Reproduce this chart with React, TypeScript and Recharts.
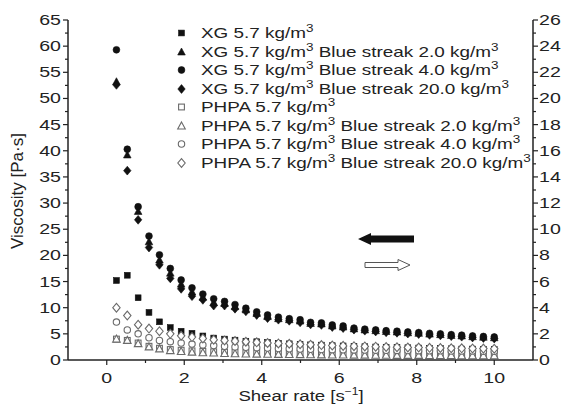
import React from "react";
import { ScatterChart, Scatter, XAxis, YAxis } from "recharts";

// shear rate [1/s]
const xs = [
  0.25, 0.53, 0.81, 1.09, 1.36, 1.64, 1.92, 2.2, 2.48, 2.76, 3.04, 3.31,
  3.59, 3.87, 4.15, 4.43, 4.71, 4.99, 5.26, 5.54, 5.82, 6.1, 6.38, 6.66,
  6.94, 7.21, 7.49, 7.77, 8.05, 8.33, 8.61, 8.89, 9.16, 9.44, 9.72, 10.0,
];

// XG series, left axis [Pa·s]
const xg = [
  15.2, 16.2, 11.9, 9.1, 7.3, 6.2, 5.5, 5.1, 4.6, 4.2, 4.0, 3.8, 3.6, 3.5,
  3.35, 3.2, 3.1, 3.0, 2.9, 2.85, 2.75, 2.7, 2.6, 2.55, 2.5, 2.45, 2.4, 2.35,
  2.3, 2.25, 2.2, 2.15, 2.1, 2.1, 2.05, 2.0,
];
const xgBs2 = [
  53.2, 39.2, 28.4, 22.6, 19.1, 16.6, 14.5, 13.0, 12.0, 11.0, 10.8, 10.2,
  9.6, 8.9, 8.3, 7.9, 7.7, 7.45, 7.0, 6.9, 6.5, 6.3, 5.95, 5.75, 5.6, 5.45,
  5.35, 5.2, 5.1, 4.95, 4.85, 4.7, 4.6, 4.45, 4.35, 4.25,
];
const xgBs4 = [
  59.3, 40.3, 29.3, 23.7, 20.1, 17.5, 15.3, 13.8, 12.6, 11.7, 11.2, 10.6,
  9.9, 9.2, 8.6, 8.2, 7.9, 7.7, 7.2, 7.1, 6.7, 6.5, 6.1, 5.9, 5.75, 5.6, 5.5,
  5.35, 5.25, 5.1, 5.0, 4.85, 4.75, 4.6, 4.5, 4.4,
];
const xgBs20 = [
  52.6, 36.2, 26.8, 21.5, 18.2, 15.6, 13.6, 12.2, 11.5, 10.4, 10.4, 9.8, 9.3,
  8.6, 8.0, 7.7, 7.5, 7.2, 6.8, 6.7, 6.3, 6.1, 5.8, 5.6, 5.45, 5.3, 5.2, 5.05,
  4.95, 4.8, 4.7, 4.55, 4.45, 4.3, 4.2, 4.1,
];

// PHPA series, right axis
const phpa = [
  1.6, 1.5, 1.3, 1.05, 0.9, 0.8, 0.75, 0.7, 0.66, 0.63, 0.6, 0.58, 0.56, 0.55,
  0.54, 0.53, 0.52, 0.51, 0.5, 0.49, 0.48, 0.48, 0.47, 0.46, 0.46, 0.45, 0.45,
  0.44, 0.44, 0.43, 0.43, 0.42, 0.42, 0.42, 0.41, 0.41,
];
const phpaBs2 = [
  1.6, 1.5, 1.25, 1.0, 0.85, 0.72, 0.65, 0.6, 0.56, 0.53, 0.5, 0.48, 0.46,
  0.45, 0.44, 0.43, 0.42, 0.41, 0.4, 0.39, 0.38, 0.38, 0.37, 0.37, 0.36, 0.36,
  0.35, 0.35, 0.35, 0.34, 0.34, 0.34, 0.33, 0.33, 0.33, 0.32,
];
const phpaBs4 = [
  2.9, 2.3, 2.0, 1.7, 1.5, 1.4, 1.3, 1.22, 1.15, 1.1, 1.05, 1.0, 0.97, 0.94,
  0.91, 0.88, 0.86, 0.84, 0.82, 0.8, 0.79, 0.78, 0.77, 0.76, 0.75, 0.74, 0.73,
  0.72, 0.71, 0.7, 0.7, 0.69, 0.68, 0.68, 0.67, 0.66,
];
const phpaBs20 = [
  4.0, 3.4, 2.7, 2.4, 2.2, 2.0, 1.85, 1.75, 1.65, 1.55, 1.5, 1.45, 1.4, 1.35,
  1.3, 1.27, 1.24, 1.2, 1.17, 1.14, 1.11, 1.08, 1.06, 1.04, 1.02, 1.0, 0.98,
  0.96, 0.95, 0.93, 0.92, 0.9, 0.89, 0.88, 0.87, 0.86,
];

const names = [
  "XG 5.7 kg/m³",
  "XG 5.7 kg/m³ Blue streak 2.0 kg/m³",
  "XG 5.7 kg/m³ Blue streak 4.0 kg/m³",
  "XG 5.7 kg/m³ Blue streak 20.0 kg/m³",
  "PHPA 5.7 kg/m³",
  "PHPA 5.7 kg/m³ Blue streak 2.0 kg/m³",
  "PHPA 5.7 kg/m³ Blue streak 4.0 kg/m³",
  "PHPA 5.7 kg/m³ Blue streak 20.0 kg/m³",
];

const leftTicks = [
  0, 2.5, 5, 7.5, 10, 12.5, 15, 17.5, 20, 22.5, 25, 27.5, 30, 32.5, 35, 37.5,
  40, 42.5, 45, 47.5, 50, 52.5, 55, 57.5, 60, 62.5, 65,
];
const rightTicks = [
  0, 1, 2, 3, 4, 5, 6, 7, 8, 9, 10, 11, 12, 13, 14, 15, 16, 17, 18, 19, 20,
  21, 22, 23, 24, 25, 26,
];
const xTicks = [0, 1, 2, 3, 4, 5, 6, 7, 8, 9, 10];

const FONT = "'Liberation Sans', Arial, sans-serif";
const SX = 1.35;
const AXIS = "#222";

const series = [
  { values: xg, kind: "square", filled: true, axis: "left" },
  { values: xgBs2, kind: "triangle", filled: true, axis: "left" },
  { values: xgBs4, kind: "circle", filled: true, axis: "left" },
  { values: xgBs20, kind: "diamond", filled: true, axis: "left" },
  { values: phpa, kind: "square", filled: false, axis: "right" },
  { values: phpaBs2, kind: "triangle", filled: false, axis: "right" },
  { values: phpaBs4, kind: "circle", filled: false, axis: "right" },
  { values: phpaBs20, kind: "diamond", filled: false, axis: "right" },
];

function Mark({ cx, cy, kind, filled }: any) {
  if (cx == null || cy == null) return null;
  const p = filled
    ? { fill: "#111", stroke: "#111", strokeWidth: 0.6 }
    : { fill: "#fff", stroke: "#6a6a6a", strokeWidth: 1.1 };
  if (kind === "square") {
    const h = 2.9;
    return <rect x={cx - h} y={cy - h} width={h * 2} height={h * 2} {...p} />;
  }
  if (kind === "triangle") {
    return (
      <polygon
        points={`${cx},${cy - 4} ${cx + 3.8},${cy + 3} ${cx - 3.8},${cy + 3}`}
        {...p}
      />
    );
  }
  if (kind === "circle") return <circle cx={cx} cy={cy} r={filled ? 3.4 : 3.2} {...p} />;
  return (
    <polygon
      points={`${cx},${cy - 4.4} ${cx + 3.7},${cy} ${cx},${cy + 4.4} ${cx - 3.7},${cy}`}
      {...p}
    />
  );
}

// splits "kg/m³" so the 3 can be drawn as a real superscript
function SupText({ text }: { text: string }) {
  const parts = text.split("³");
  const out: any[] = [];
  parts.forEach((p, i) => {
    out.push(
      <tspan key={"t" + i} dy={i > 0 ? 6 : 0}>
        {p}
      </tspan>
    );
    if (i < parts.length - 1)
      out.push(
        <tspan key={"s" + i} dy={-6} fontSize={10}>
          3
        </tspan>
      );
  });
  return <>{out}</>;
}

function LeftTick({ x, y, payload }: any) {
  const v = payload.value;
  const major = v % 5 === 0;
  return (
    <g>
      <line x1={x} x2={x - (major ? 5 : 3)} y1={y} y2={y} stroke={AXIS} strokeWidth={1.2} />
      {major && (
        <text
          transform={`translate(${x - 7},${y + 5}) scale(${SX},1)`}
          textAnchor="end"
          fontSize={14.5}
          fontFamily={FONT}
          fill="#222"
        >
          {v}
        </text>
      )}
    </g>
  );
}

function RightTick({ x, y, payload }: any) {
  const v = payload.value;
  const major = v % 2 === 0;
  return (
    <g>
      <line x1={x} x2={x + (major ? 5 : 3)} y1={y} y2={y} stroke={AXIS} strokeWidth={1.2} />
      {major && (
        <text
          transform={`translate(${x + 6},${y + 5}) scale(${SX},1)`}
          textAnchor="start"
          fontSize={14.5}
          fontFamily={FONT}
          fill="#222"
        >
          {v}
        </text>
      )}
    </g>
  );
}

function BottomTick({ x, y, payload }: any) {
  const v = payload.value;
  const major = v % 2 === 0;
  return (
    <g>
      <line x1={x} x2={x} y1={y} y2={y + (major ? 5 : 3)} stroke={AXIS} strokeWidth={1.2} />
      {major && (
        <text
          transform={`translate(${x},${y + 23}) scale(${SX},1)`}
          textAnchor="middle"
          fontSize={14.5}
          fontFamily={FONT}
          fill="#222"
        >
          {v}
        </text>
      )}
    </g>
  );
}

function Overlay() {
  const rowY = [33, 52, 70, 89, 107, 126, 144, 163];
  return (
    <svg
      width={563}
      height={413}
      style={{ position: "absolute", left: 0, top: 0, pointerEvents: "none" }}
    >
      {names.map((n, i) => (
        <g key={n}>
          <Mark cx={181.5} cy={rowY[i]} kind={series[i].kind} filled={series[i].filled} />
          <text
            transform={`translate(201,${rowY[i] + 5}) scale(${SX},1)`}
            fontSize={14}
            fontFamily={FONT}
            fill="#222"
          >
            <SupText text={n} />
          </text>
        </g>
      ))}
      <polygon
        points="358,239 371,233 371,235.5 414,235.5 414,242.5 371,242.5 371,245"
        fill="#111"
      />
      <polygon
        points="410,265 398,259.5 398,262.5 365,262.5 365,267.5 398,267.5 398,270.5"
        fill="#fff"
        stroke="#555"
        strokeWidth={1}
      />
      <text
        transform="translate(23,191) rotate(-90)"
        textAnchor="middle"
        fontSize={17}
        fontFamily={FONT}
        fill="#222"
      >
        Viscosity [Pa·s]
      </text>
      <text
        transform={`translate(301,401) scale(1.2,1)`}
        textAnchor="middle"
        fontSize={15.5}
        fontFamily={FONT}
        fill="#222"
      >
        Shear rate [s
        <tspan dy={-6} fontSize={10}>
          −1
        </tspan>
        <tspan dy={6}>]</tspan>
      </text>
    </svg>
  );
}

export default function App() {
  return (
    <div style={{ position: "absolute", left: 0, top: 0, width: 563, height: 413, background: "#fff" }}>
      <ScatterChart
        width={563}
        height={413}
        margin={{ top: 20, right: 0, bottom: 0, left: 0 }}
      >
        <XAxis
          xAxisId="b"
          type="number"
          dataKey="x"
          domain={[-1, 11]}
          ticks={xTicks}
          interval={0}
          height={53}
          tickSize={0}
          tickMargin={0}
          tickLine={false}
          tick={<BottomTick />}
          axisLine={{ stroke: AXIS, strokeWidth: 1.5 }}
          allowDataOverflow
        />
        <XAxis
          xAxisId="t"
          orientation="top"
          type="number"
          dataKey="x"
          domain={[-1, 11]}
          height={0}
          tick={false}
          tickLine={false}
          axisLine={{ stroke: AXIS, strokeWidth: 1.5 }}
        />
        <YAxis
          yAxisId="left"
          type="number"
          domain={[0, 65]}
          ticks={leftTicks}
          interval={0}
          width={68}
          tickSize={0}
          tickMargin={0}
          tickLine={false}
          tick={<LeftTick />}
          axisLine={{ stroke: AXIS, strokeWidth: 1.5 }}
        />
        <YAxis
          yAxisId="right"
          orientation="right"
          type="number"
          domain={[0, 26]}
          ticks={rightTicks}
          interval={0}
          width={30}
          tickSize={0}
          tickMargin={0}
          tickLine={false}
          tick={<RightTick />}
          axisLine={{ stroke: AXIS, strokeWidth: 1.5 }}
        />
        {series.map((s, i) => (
          <Scatter
            key={names[i]}
            name={names[i]}
            xAxisId="b"
            yAxisId={s.axis}
            data={s.values.map((v, j) => ({ x: xs[j], y: v }))}
            dataKey="y"
            isAnimationActive={false}
            shape={(props: any) => (
              <Mark cx={props.cx} cy={props.cy} kind={s.kind} filled={s.filled} />
            )}
          />
        ))}
      </ScatterChart>
      <Overlay />
    </div>
  );
}
